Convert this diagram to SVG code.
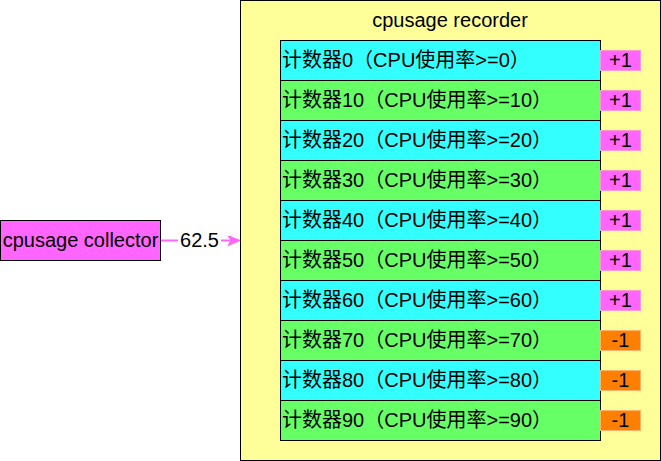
<svg xmlns="http://www.w3.org/2000/svg" width="661" height="461" viewBox="0 0 661 461">
<defs>
<style>
text{font-family:"Liberation Sans","Noto Sans CJK SC",sans-serif;font-size:20px;fill:#000}
.c{text-anchor:middle}
.cy{fill:#33FFFF;stroke:#000;stroke-width:1}
.gr{fill:#66FF66;stroke:#000;stroke-width:1}
.pk{fill:#FF66FF;stroke:#FF99CC;stroke-width:1}
.or{fill:#FF8000;stroke:#FFB366;stroke-width:1}
</style>
<marker id="ah" viewBox="0 0 12 10" refX="11" refY="5" markerWidth="12" markerHeight="10" markerUnits="userSpaceOnUse" orient="auto">
<path d="M0,0 L12,5 L0,10 L3,5 Z" fill="#FF66FF" stroke="#FF66FF"/>
</marker>
</defs>
<g id="recorder">
<rect x="240.5" y="0.5" width="420" height="460" fill="#FFFF99" stroke="#000"/>
<text class="c" x="450" y="27">cpusage recorder</text>
</g>
<g id="collector">
<rect x="0.5" y="220.5" width="160" height="40" fill="#FF66FF" stroke="#000"/>
<text class="c" x="80.5" y="247">cpusage collector</text>
</g>
<g id="counter0"><rect class="cy" x="280.5" y="40.5" width="320" height="40"/><text x="282" y="67">计数器0（CPU使用率&gt;=0）</text></g>
<g id="counter10"><rect class="gr" x="280.5" y="80.5" width="320" height="40"/><text x="282" y="107">计数器10（CPU使用率&gt;=10）</text></g>
<g id="counter20"><rect class="cy" x="280.5" y="120.5" width="320" height="40"/><text x="282" y="147">计数器20（CPU使用率&gt;=20）</text></g>
<g id="counter30"><rect class="gr" x="280.5" y="160.5" width="320" height="40"/><text x="282" y="187">计数器30（CPU使用率&gt;=30）</text></g>
<g id="counter40"><rect class="cy" x="280.5" y="200.5" width="320" height="40"/><text x="282" y="227">计数器40（CPU使用率&gt;=40）</text></g>
<g id="counter50"><rect class="gr" x="280.5" y="240.5" width="320" height="40"/><text x="282" y="267">计数器50（CPU使用率&gt;=50）</text></g>
<g id="counter60"><rect class="cy" x="280.5" y="280.5" width="320" height="40"/><text x="282" y="307">计数器60（CPU使用率&gt;=60）</text></g>
<g id="counter70"><rect class="gr" x="280.5" y="320.5" width="320" height="40"/><text x="282" y="347">计数器70（CPU使用率&gt;=70）</text></g>
<g id="counter80"><rect class="cy" x="280.5" y="360.5" width="320" height="40"/><text x="282" y="387">计数器80（CPU使用率&gt;=80）</text></g>
<g id="counter90"><rect class="gr" x="280.5" y="400.5" width="320" height="40"/><text x="282" y="427">计数器90（CPU使用率&gt;=90）</text></g>
<g id="badge0"><rect class="pk" x="600.5" y="50.5" width="40" height="20"/><text class="c" x="620.5" y="67">+1</text></g>
<g id="badge10"><rect class="pk" x="600.5" y="90.5" width="40" height="20"/><text class="c" x="620.5" y="107">+1</text></g>
<g id="badge20"><rect class="pk" x="600.5" y="130.5" width="40" height="20"/><text class="c" x="620.5" y="147">+1</text></g>
<g id="badge30"><rect class="pk" x="600.5" y="170.5" width="40" height="20"/><text class="c" x="620.5" y="187">+1</text></g>
<g id="badge40"><rect class="pk" x="600.5" y="210.5" width="40" height="20"/><text class="c" x="620.5" y="227">+1</text></g>
<g id="badge50"><rect class="pk" x="600.5" y="250.5" width="40" height="20"/><text class="c" x="620.5" y="267">+1</text></g>
<g id="badge60"><rect class="pk" x="600.5" y="290.5" width="40" height="20"/><text class="c" x="620.5" y="307">+1</text></g>
<g id="badge70"><rect class="or" x="600.5" y="330.5" width="40" height="20"/><text class="c" x="620.5" y="347">-1</text></g>
<g id="badge80"><rect class="or" x="600.5" y="370.5" width="40" height="20"/><text class="c" x="620.5" y="387">-1</text></g>
<g id="badge90"><rect class="or" x="600.5" y="410.5" width="40" height="20"/><text class="c" x="620.5" y="427">-1</text></g>
<g id="connectors">
<line x1="161" y1="240.5" x2="239" y2="240.5" stroke="#FF66FF" stroke-width="2" marker-end="url(#ah)"/>
<rect x="178" y="230" width="43" height="22" fill="#FFFFFF"/>
<text class="c" x="199.5" y="247">62.5</text>
</g>
</svg>
